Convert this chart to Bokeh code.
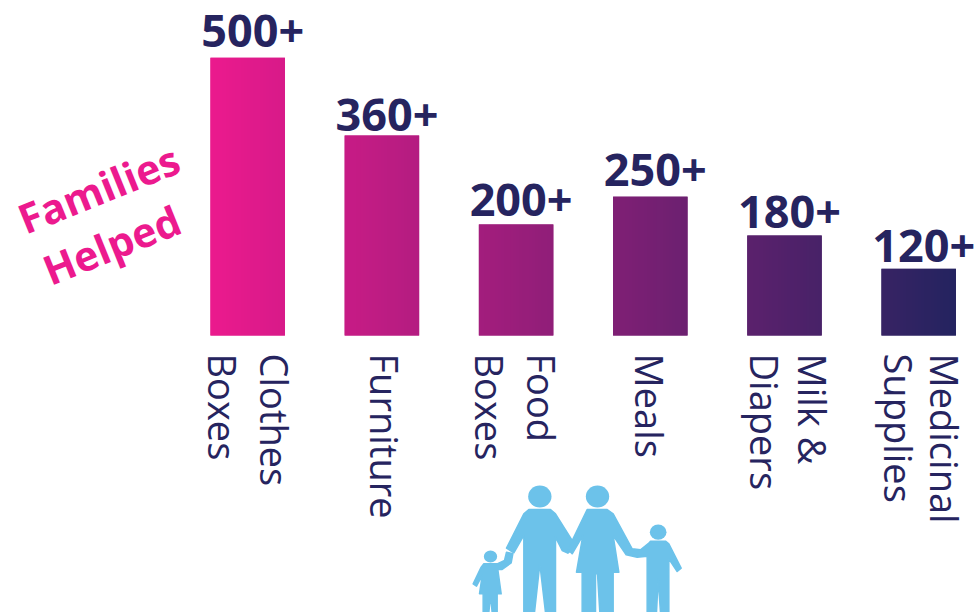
import numpy as np
from bokeh.plotting import figure
from bokeh.models import ColumnDataSource, Range1d
from bokeh.core.properties import value
from bokeh.embed import file_html
from bokeh.resources import INLINE

categories = ["Clothes Boxes", "Furniture", "Food Boxes", "Meals", "Milk & Diapers", "Medicinal Supplies"]
values = [500, 360, 200, 250, 180, 120]
value_labels = ["500+", "360+", "200+", "250+", "180+", "120+"]
label_line_1 = ["Clothes", "Furniture", "Food", "Meals", "Milk &", "Medicinal"]
label_line_2 = ["Boxes", "", "Boxes", "", "Diapers", "Supplies"]
annotation = ["Families", "Helped"]

PINK = (236, 26, 142)
NAVY = (36, 36, 96)
BLUE = "#6cc2ea"
INK = "#26245f"

W, H = 978, 612
PX_PER_X = 134.2
PX_PER_Y = 0.5555
x_start = -247.2 / PX_PER_X
y_end = 335 / PX_PER_Y
xr = Range1d(x_start, x_start + W / PX_PER_X)
yr = Range1d(y_end - H / PX_PER_Y, y_end)

def fx(px):
    return x_start + np.asarray(px, dtype=float) / PX_PER_X

def fy(py):
    return y_end - np.asarray(py, dtype=float) / PX_PER_Y

p = figure(width=W, height=H, x_range=xr, y_range=yr, toolbar_location=None,
           output_backend="svg", min_border=0, outline_line_color=None)
p.axis.visible = False
p.grid.visible = False
p.background_fill_color = "white"
p.border_fill_color = "white"

xs = list(range(len(values)))
bar_w = 0.555
span0 = xs[0] - bar_w / 2
span1 = xs[-1] + bar_w / 2

def mix(t):
    return [PINK[k] + (NAVY[k] - PINK[k]) * t for k in range(3)]

mids = []
for x in xs:
    c = mix((x - span0) / (span1 - span0))
    mids.append("#%02x%02x%02x" % tuple(int(v) for v in c))

src = ColumnDataSource(dict(x=xs, top=values, color=mids, name=categories, lab=value_labels,
                            l1=label_line_1, l2=label_line_2))
p.vbar(x="x", top="top", bottom=0, width=bar_w, fill_color="color", line_color=None, source=src)

# horizontal gradient running across the whole row of bars
for x, v in zip(xs, values):
    n = 24
    img = np.zeros((1, n), dtype=np.uint32)
    view = img.view(dtype=np.uint8).reshape((1, n, 4))
    for i in range(n):
        pos = x - bar_w / 2 + bar_w * (i + 0.5) / n
        c = mix((pos - span0) / (span1 - span0))
        view[0, i] = [int(c[0]), int(c[1]), int(c[2]), 255]
    p.image_rgba(image=[img], x=x - bar_w / 2, y=0, dw=bar_w, dh=v)

# value labels sit at slightly different heights above their bars; nudges in screen pixels
value_nudge = [-27, -21, -24, -27, -24, -23]
for i, x in enumerate(xs):
    p.text(x=[x], y=[values[i]], text=[value_labels[i]], text_font=value("Open Sans"),
           text_font_style="bold", text_font_size="45px", text_color=INK, text_align="center",
           text_baseline="alphabetic", x_offset=5, y_offset=value_nudge[i])

# category labels, rotated, one or two lines; nudges are in screen pixels
nudge_1 = [27, 3, 26, 0, 28, 26]
nudge_2 = [-25, 0, -26, 0, -20, -20]
common = dict(text_font=value("Open Sans"), text_font_size="38px", text_color=INK,
              text_align="left", text_baseline="middle", angle=-np.pi / 2, y_offset=18)
for i, x in enumerate(xs):
    p.text(x=[x], y=[0], text=[label_line_1[i]], x_offset=nudge_1[i], **common)
    if label_line_2[i]:
        p.text(x=[x], y=[0], text=[label_line_2[i]], x_offset=nudge_2[i], **common)

# rotated annotation
p.text(x=fx([98, 111]), y=fy([188, 244]), text=annotation, text_font=value("Open Sans"),
       text_font_style="bold", text_font_size="41px", text_color="#ec1a8e",
       text_align="center", text_baseline="middle", angle=np.deg2rad(22))

# family pictogram (outline, crop-scale coordinates)
def zx(a):
    return fx(460 + np.asarray(a, dtype=float) / 3)

def zy(a):
    return fy(475 + np.asarray(a, dtype=float) / 3)

heads = [(238, 63, 35, 33), (411, 63, 35, 33), (593, 170, 25, 23), (90, 243, 20, 18)]
father = [(205, 102), (270, 102), (285, 115), (335, 195), (338, 220), (322, 233), (305, 225), (285, 185),
          (285, 411), (255, 411), (238, 265), (222, 411), (190, 411), (190, 180), (160, 232), (138, 218),
          (190, 115)]
mother = [(380, 102), (440, 102), (458, 115), (515, 220), (540, 223), (565, 203), (570, 197), (615, 197),
          (625, 205), (662, 278), (650, 288), (625, 250), (625, 411), (600, 411), (593, 310), (588, 411),
          (560, 411), (560, 242), (530, 245), (497, 238), (458, 180), (475, 290), (458, 290), (458, 411),
          (418, 411), (411, 295), (405, 295), (405, 411), (365, 411), (365, 290), (348, 290), (367, 180),
          (335, 235), (322, 222), (380, 102)]
girl = [(70, 265), (110, 265), (132, 255), (138, 230), (157, 235), (152, 262), (125, 282), (112, 282),
        (122, 355), (110, 355), (110, 411), (95, 411), (90, 360), (85, 411), (68, 411), (68, 355), (57, 355),
        (65, 300), (48, 332), (38, 325), (62, 275)]
shapes = [father, mother, girl]
p.patches(xs=[list(zx([q[0] for q in s])) for s in shapes],
          ys=[list(zy([q[1] for q in s])) for s in shapes],
          fill_color=BLUE, line_color=BLUE, line_width=1.5, line_join="round")
p.ellipse(x=[zx(h[0]) for h in heads], y=[zy(h[1]) for h in heads],
          width=[h[2] * 2 / 3 / PX_PER_X for h in heads], height=[h[3] * 2 / 3 / PX_PER_Y for h in heads],
          fill_color=BLUE, line_color=None)

open("out.html", "w").write(file_html(p, INLINE))
